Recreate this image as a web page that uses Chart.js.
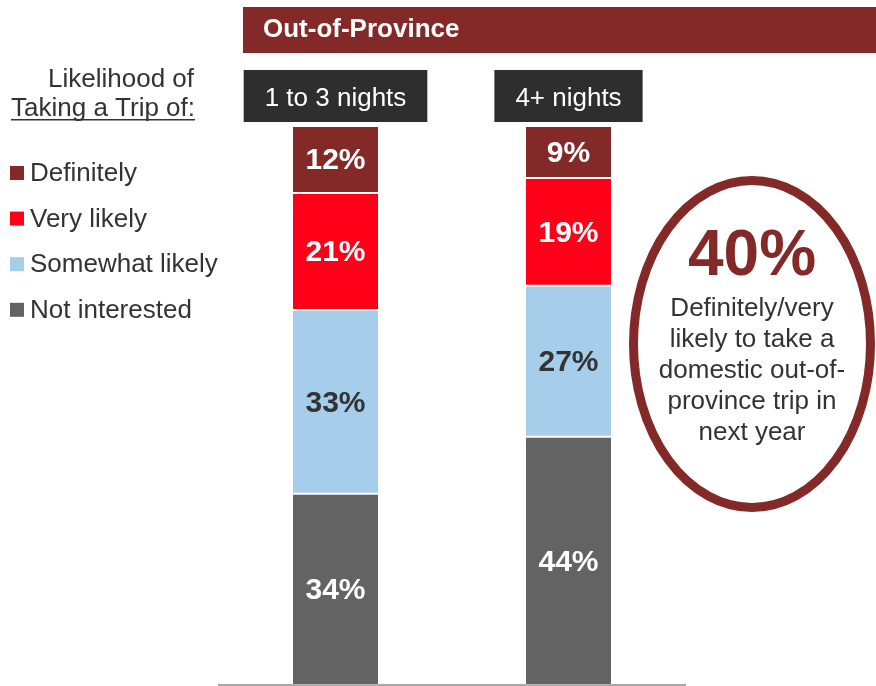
<!DOCTYPE html>
<html>
<head>
<meta charset="utf-8">
<script src="https://cdn.jsdelivr.net/npm/chart.js@4"></script>
<style>
  body { margin: 0; background: #ffffff; }
  #wrap { width: 876px; height: 686px; position: relative; }
</style>
</head>
<body>
<div id="wrap"><canvas id="tripChart" width="876" height="686"></canvas></div>
<script>
// Chart values
const categories = ["1 to 3 nights", "4+ nights"];
const seriesNames = ["Not interested", "Somewhat likely", "Very likely", "Definitely"];
const notInterested = [34.2, 44.4];
const somewhatLikely = [32.9, 27.0];
const veryLikely = [20.9, 19.3];
const definitely = [12.0, 9.3];
const headline = "40%";
const headlineNote = ["Definitely/very", "likely to take a", "domestic out-of-", "province trip in", "next year"];

const FONT = '"Liberation Sans", Arial, sans-serif';
const DARK_RED = "#832a28";
const TEXT = "#333333";

// Draws the header, category boxes, legend, segment labels and the callout ellipse
const decorations = {
  id: "decorations",
  afterDatasetsDraw(chart) {
    const ctx = chart.ctx;
    const xScale = chart.scales.x;
    ctx.save();

    // Header bar
    ctx.fillStyle = DARK_RED;
    ctx.fillRect(243, 7, 633, 46);
    ctx.fillStyle = "#ffffff";
    ctx.font = "bold 26px " + FONT;
    ctx.textAlign = "left";
    ctx.textBaseline = "alphabetic";
    ctx.fillText("Out-of-Province", 263, 37);

    // Category label boxes
    ctx.font = "26px " + FONT;
    categories.forEach((cat, i) => {
      const cx = xScale.getPixelForValue(i);
      const w = ctx.measureText(cat).width + 42;
      ctx.fillStyle = "#2e2e2e";
      ctx.fillRect(cx - w / 2, 70, w, 52);
      ctx.fillStyle = "#ffffff";
      ctx.textAlign = "center";
      ctx.fillText(cat, cx, 106);
    });

    // Legend title
    ctx.fillStyle = TEXT;
    ctx.textAlign = "left";
    ctx.fillText("Likelihood of", 48, 87);
    ctx.fillText("Taking a Trip of:", 11, 116);
    const ulw = ctx.measureText("Taking a Trip of:").width;
    ctx.fillRect(11, 119, ulw, 1.5);

    // Legend items (top to bottom = top of stack first)
    const ds = chart.data.datasets.slice().reverse();
    ds.forEach((d, i) => {
      const y = 166 + i * 45.6;
      ctx.fillStyle = d.backgroundColor;
      ctx.fillRect(10, y, 14, 14);
      ctx.fillStyle = TEXT;
      ctx.fillText(d.label, 30, y + 15);
    });

    // Segment value labels
    ctx.font = "bold 30px " + FONT;
    ctx.textAlign = "center";
    ctx.textBaseline = "middle";
    chart.data.datasets.forEach((d, di) => {
      const meta = chart.getDatasetMeta(di);
      meta.data.forEach((bar, i) => {
        const p = bar.getProps(["x", "y", "base"], true);
        ctx.fillStyle = d.labelColor;
        ctx.fillText(Math.round(d.data[i]) + "%", p.x, (p.y + p.base) / 2 + 1.5);
      });
    });

    // Callout ellipse
    ctx.beginPath();
    ctx.ellipse(752, 344, 118.5, 163.5, 0, 0, Math.PI * 2);
    ctx.lineWidth = 9;
    ctx.strokeStyle = DARK_RED;
    ctx.stroke();

    ctx.textBaseline = "alphabetic";
    ctx.fillStyle = DARK_RED;
    ctx.font = "bold 64px " + FONT;
    ctx.fillText(headline, 752, 275);
    ctx.fillStyle = TEXT;
    ctx.font = "26px " + FONT;
    headlineNote.forEach((line, i) => {
      ctx.fillText(line, 752, 316 + i * 31);
    });

    ctx.restore();
  }
};

const seriesColors = ["#636363", "#a6ceeb", "#ff0018", DARK_RED];
const labelColors = ["#ffffff", TEXT, "#ffffff", "#ffffff"];
const seriesData = [notInterested, somewhatLikely, veryLikely, definitely];

new Chart(document.getElementById("tripChart"), {
  type: "bar",
  data: {
    labels: categories,
    datasets: seriesData.map((vals, i) => ({
      label: seriesNames[i],
      data: vals,
      backgroundColor: seriesColors[i],
      borderColor: "rgba(255,255,255,0.18)",
      borderWidth: 1,
      borderSkipped: false,
      labelColor: labelColors[i],
      categoryPercentage: 1,
      barPercentage: 0.3734
    }))
  },
  options: {
    responsive: false,
    animation: false,
    layout: { padding: { left: 219, right: 191, top: 126, bottom: 1 } },
    plugins: { legend: { display: false }, tooltip: { enabled: false } },
    scales: {
      x: {
        stacked: true,
        ticks: { display: false },
        grid: { display: false, drawTicks: false },
        border: { display: true, color: "#a6a6a6", width: 2 }
      },
      y: {
        stacked: true,
        display: false,
        min: 0,
        max: 100
      }
    }
  },
  plugins: [decorations]
});
</script>
</body>
</html>
